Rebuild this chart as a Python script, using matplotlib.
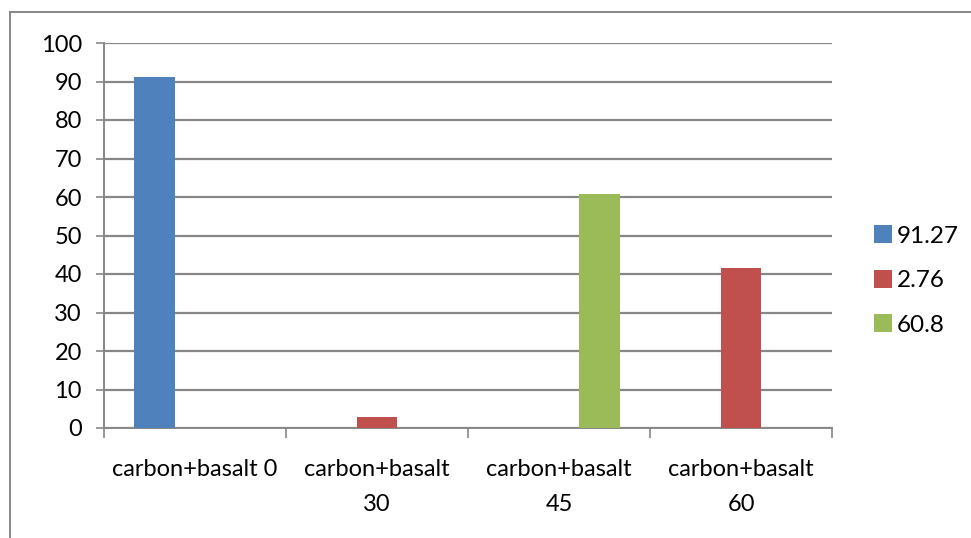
import numpy as np
import matplotlib.pyplot as plt
from matplotlib.lines import Line2D

plt.rcParams['font.family'] = ['Lato', 'DejaVu Sans']

categories = ['carbon+basalt 0', 'carbon+basalt\n30', 'carbon+basalt\n45', 'carbon+basalt\n60']
series_names = ['91.27', '2.76', '60.8']
s1 = [91.27, 0, 0, 0]
s2 = [0, 2.76, 0, 41.5]
s3 = [0, 0, 60.8, 0]
colors = ['#4F81BD', '#C0504D', '#9BBB59']

fig = plt.figure(figsize=(9.71, 5.38), dpi=100)
ax = fig.add_axes([104 / 971, 1 - 428 / 538, 728 / 971, 385 / 538])

x = np.arange(len(categories))
w = 1 / 4.5
for i, (vals, name, c) in enumerate(zip([s1, s2, s3], series_names, colors)):
    ax.bar(x + (i - 1) * w, vals, w, color=c, label=name, zorder=3)

ax.set_xlim(-0.5, len(categories) - 0.5)
ax.set_ylim(0, 100)
ax.set_yticks(range(0, 101, 10))
ax.yaxis.grid(True, color='#878787', linewidth=1.6, zorder=0)
ax.set_xticks(x)
ax.set_xticklabels(categories, fontsize=17, linespacing=1.85)
ax.set_xticks(np.arange(-0.5, len(categories)), minor=True)
ax.tick_params(axis='x', which='major', length=0, pad=22)
ax.tick_params(axis='x', which='minor', length=7, color='#878787', width=1.2)
ax.tick_params(axis='y', length=6, color='#878787', width=1.2, labelsize=17, pad=10)
for label in ax.get_xticklabels():
    label.set_verticalalignment('top')

for side in ['top', 'right']:
    ax.spines[side].set_visible(False)
for side in ['left', 'bottom']:
    ax.spines[side].set_color('#878787')
    ax.spines[side].set_linewidth(1.4)

leg = ax.legend(loc='center left', bbox_to_anchor=(1.027, 0.383), frameon=False,
                fontsize=17.5, handlelength=0.75, handleheight=0.75, handletextpad=0.2,
                labelspacing=0.95)

# outer chart border (top and left edges)
fig.add_artist(Line2D([10 / 971, 1], [1 - 12 / 538] * 2, color='#878787', linewidth=1.4))
fig.add_artist(Line2D([10 / 971] * 2, [0, 1 - 12 / 538], color='#878787', linewidth=1.4))

fig.savefig('out.png', dpi=100)
